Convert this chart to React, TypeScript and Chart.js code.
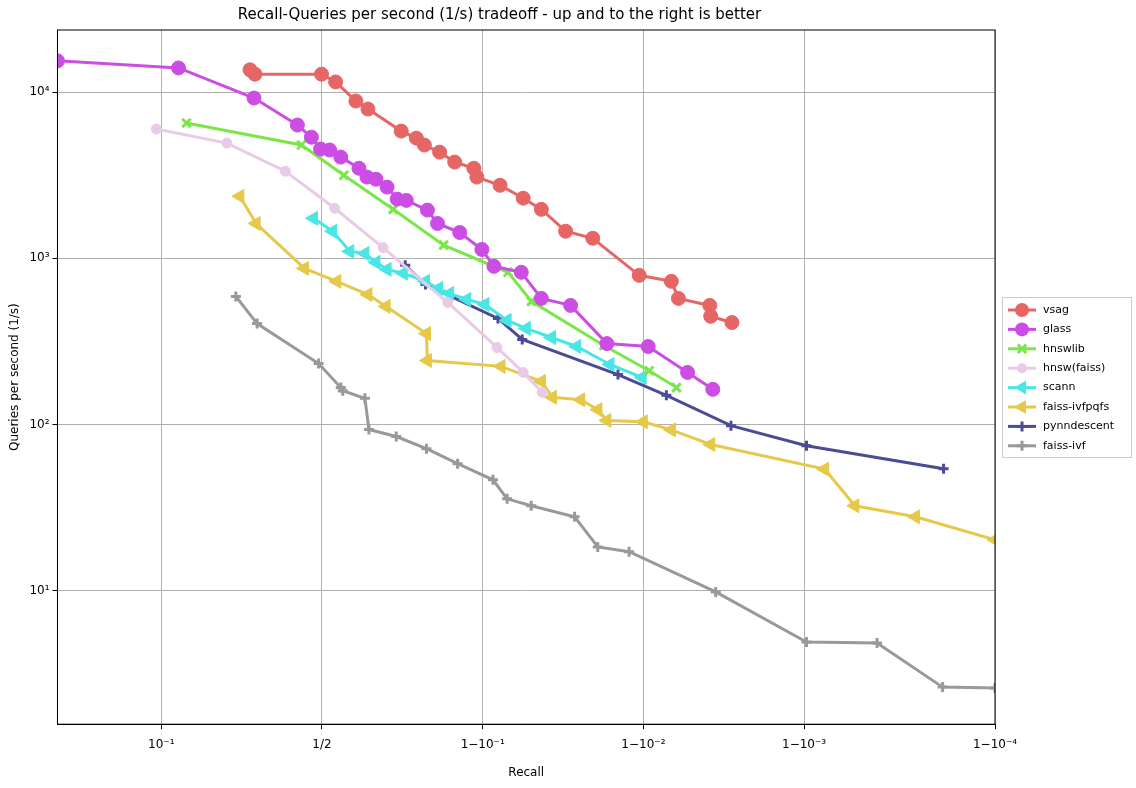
import React, { useEffect, useRef } from "react";
import { Chart, registerables } from "chart.js";
Chart.register(...registerables);

// x values are in axis units: 0 = 10^-1, 1 = 1/2, 2 = 1-10^-1, 3 = 1-10^-2, 4 = 1-10^-3, 5.188 = 1-10^-4
const xTickVals = [0, 1, 2, 3, 4, 5.188];
const xTickLabels = ["10⁻¹", "1/2", "1−10⁻¹", "1−10⁻²", "1−10⁻³", "1−10⁻⁴"];
const yTickVals = [10, 100, 1000, 10000];
const yTickLabels = ["10¹", "10²", "10³", "10⁴"];

const vsagX = [0.552,0.583,0.997,1.085,1.211,1.286,1.493,1.587,1.637,1.732,1.826,1.945,1.964,2.108,2.252,2.365,2.516,2.685,2.974,3.174,3.218,3.413,3.419,3.551];
const vsagY = [13600,12800,12800,11500,8830,7900,5820,5280,4800,4350,3790,3480,3080,2750,2300,1970,1455,1320,790,727,574,521,448,411];
const glassX = [-0.646,0.107,0.577,0.847,0.934,0.991,1.048,1.117,1.23,1.28,1.336,1.405,1.468,1.525,1.656,1.719,1.857,1.995,2.07,2.24,2.365,2.547,2.773,3.03,3.275,3.432];
const glassY = [15400,13960,9200,6330,5350,4540,4480,4060,3480,3080,2990,2680,2270,2230,1950,1620,1430,1130,895,824,574,521,307,295,206,163];
const hnswlibX = [0.157,0.872,1.136,1.443,1.757,2.158,2.303,2.754,3.036,3.206];
const hnswlibY = [6510,4800,3160,1970,1200,824,551,299,211,167];
const hnswFaissX = [-0.031,0.408,0.772,1.079,1.38,1.782,2.089,2.252,2.371];
const hnswFaissY = [5990,4930,3340,2000,1160,543,291,206,156];
const scannX = [0.947,1.066,1.173,1.267,1.336,1.405,1.506,1.644,1.725,1.794,1.901,2.014,2.152,2.271,2.428,2.585,2.792,2.992];
const scannY = [1740,1455,1100,1070,946,858,813,727,659,615,566,528,423,379,334,295,230,192];
const ivfpqfsX = [0.489,0.59,0.891,1.092,1.286,1.399,1.65,1.656,2.114,2.365,2.434,2.61,2.717,2.773,2.999,3.174,3.419,4.128,4.316,4.693,5.188];
const ivfpqfsY = [2360,1620,870,727,606,514,353,243,224,182,146,141,123,106,104,93,76,54,32.5,27.9,20.3];
const pynnX = [1.518,1.644,2.095,2.246,2.842,3.143,3.545,4.015,4.868];
const pynnY = [908,697,435,325,200,150,98.6,74.7,54.3];
const ivfX = [0.464,0.596,0.979,1.117,1.129,1.267,1.292,1.462,1.65,1.844,2.064,2.152,2.302,2.572,2.716,2.911,3.45,4.015,4.454,4.862,5.188];
const ivfY = [590,405,233,167,160,144,93.4,84.8,71.7,58.2,46.6,35.8,32.5,27.9,18.4,17.2,9.87,4.93,4.86,2.64,2.61];

const seriesNames = ["vsag","glass","hnswlib","hnsw(faiss)","scann","faiss-ivfpqfs","pynndescent","faiss-ivf"];
const seriesX = [vsagX,glassX,hnswlibX,hnswFaissX,scannX,ivfpqfsX,pynnX,ivfX];
const seriesY = [vsagY,glassY,hnswlibY,hnswFaissY,scannY,ivfpqfsY,pynnY,ivfY];
const colors = ["#e66666","#cc4de3","#7ae64a","#e8cbe6","#4ae6e6","#e6c84a","#4b4b96","#999999"];
const styles: any[] = ["circle","circle","crossRot","circle","triangle","triangle","cross","cross"];
const rotations = [0,0,0,0,-90,-90,0,0];
const radii = [7,7,6,5,8,8,5,5];
const borderW = [1,1,3,1,1,1,3,3];

function drawMarker(ctx: CanvasRenderingContext2D, style: string, r: number, x: number, y: number, color: string, bw: number) {
  ctx.fillStyle = color;
  ctx.strokeStyle = color;
  ctx.lineWidth = bw;
  ctx.beginPath();
  if (style === "circle") {
    ctx.arc(x, y, r, 0, Math.PI * 2);
    ctx.fill();
  } else if (style === "triangle") {
    ctx.moveTo(x - r, y);
    ctx.lineTo(x + r * 0.5, y - r * 0.87);
    ctx.lineTo(x + r * 0.5, y + r * 0.87);
    ctx.closePath();
    ctx.fill();
  } else if (style === "crossRot") {
    const d = r * 0.7;
    ctx.moveTo(x - d, y - d); ctx.lineTo(x + d, y + d);
    ctx.moveTo(x + d, y - d); ctx.lineTo(x - d, y + d);
    ctx.stroke();
  } else {
    ctx.moveTo(x - r, y); ctx.lineTo(x + r, y);
    ctx.moveTo(x, y - r); ctx.lineTo(x, y + r);
    ctx.stroke();
  }
}

export default function App() {
  const ref = useRef<HTMLCanvasElement>(null);
  useEffect(() => {
    document.body.style.margin = "0";
    const legendPlugin = {
      id: "customLegend",
      afterDraw(chart: any) {
        const ctx = chart.ctx;
        const a = chart.chartArea;
        ctx.save();
        ctx.strokeStyle = "#000";
        ctx.lineWidth = 1;
        ctx.strokeRect(a.left, a.top, a.right - a.left, a.bottom - a.top);
        const lx = 1002, ly = 297, lw = 129, lh = 160;
        ctx.fillStyle = "rgba(255,255,255,0.8)";
        ctx.fillRect(lx, ly, lw, lh);
        ctx.strokeStyle = "#cccccc";
        ctx.strokeRect(lx + 0.5, ly + 0.5, lw, lh);
        ctx.font = "11px 'DejaVu Sans'";
        ctx.textBaseline = "middle";
        chart.data.datasets.forEach((ds: any, i: number) => {
          const y = ly + 13 + i * 19.4;
          ctx.strokeStyle = ds.borderColor;
          ctx.lineWidth = 3;
          ctx.beginPath(); ctx.moveTo(lx + 6, y); ctx.lineTo(lx + 34, y); ctx.stroke();
          drawMarker(ctx, styles[i], radii[i], lx + 20, y, colors[i], borderW[i]);
          ctx.fillStyle = "#000";
          ctx.fillText(ds.label, lx + 41, y);
        });
        ctx.restore();
      },
    };
    const chart = new Chart(ref.current!, {
      type: "line",
      data: {
        datasets: seriesNames.map((n, i) => ({
          label: n,
          data: seriesX[i].map((x, j) => ({ x, y: seriesY[i][j] })),
          borderColor: colors[i],
          backgroundColor: colors[i],
          borderWidth: 3,
          pointStyle: styles[i],
          pointRotation: rotations[i],
          pointRadius: radii[i],
          pointBorderWidth: borderW[i],
          pointBackgroundColor: colors[i],
          pointBorderColor: colors[i],
          tension: 0,
        })),
      },
      options: {
        animation: false,
        responsive: false,
        layout: { padding: { left: 4, right: 141, top: 0, bottom: 4 } },
        plugins: {
          legend: { display: false },
          tooltip: { enabled: false },
          title: {
            display: true,
            text: "Recall-Queries per second (1/s) tradeoff - up and to the right is better",
            color: "#000",
            font: { family: "'DejaVu Sans'", size: 15, weight: "normal" as any },
            padding: { top: 6, bottom: 6 },
          },
        },
        scales: {
          x: {
            type: "linear",
            min: -0.646,
            max: 5.188,
            afterBuildTicks: (s: any) => { s.ticks = xTickVals.map((v) => ({ value: v })); },
            ticks: {
              color: "#000",
              font: { family: "'DejaVu Sans'", size: 12 },
              maxRotation: 0,
              callback: (v: any, i: number) => xTickLabels[i],
              padding: 8,
            },
            grid: { color: "#b0b0b0", drawTicks: true, tickLength: 5, tickColor: "#000" },
            border: { color: "#000" },
            title: { display: true, text: "Recall", color: "#000", font: { family: "'DejaVu Sans'", size: 12 }, padding: { top: 6 } },
          },
          y: {
            type: "logarithmic",
            min: 1.58,
            max: 23600,
            afterBuildTicks: (s: any) => { s.ticks = yTickVals.map((v) => ({ value: v })); },
            ticks: {
              color: "#000",
              font: { family: "'DejaVu Sans'", size: 12 },
              callback: (v: any, i: number) => yTickLabels[i],
            },
            grid: { color: "#b0b0b0", tickLength: 5, tickColor: "#000" },
            border: { color: "#000" },
            title: { display: true, text: "Queries per second (1/s)", color: "#000", font: { family: "'DejaVu Sans'", size: 12 } },
          },
        },
      },
      plugins: [legendPlugin],
    } as any);
    return () => chart.destroy();
  }, []);
  return <canvas ref={ref} width={1136} height={788} />;
}
